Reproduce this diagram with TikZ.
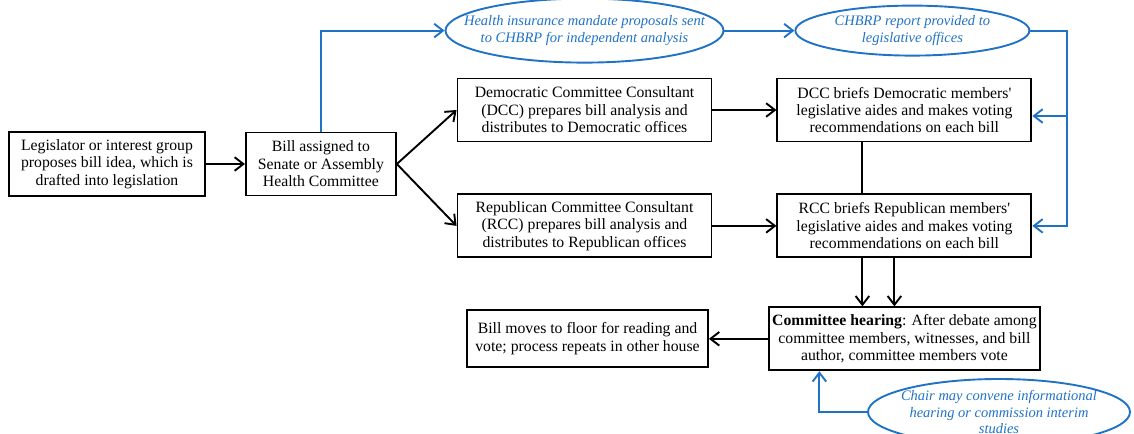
\documentclass[tikz,border=0pt]{standalone}
\usepackage{fontspec}
\setmainfont{Liberation Serif}
\usetikzlibrary{positioning, arrows.meta, shapes.geometric}
\definecolor{chbrp}{RGB}{32,114,198}

\begin{document}
\begin{tikzpicture}[
    box/.style={
        draw,
        line width=1.35pt,
        minimum width=6.35cm,
        minimum height=1.575cm,
        inner xsep=2pt,
        align=center,
        font=\fontsize{11.2}{12.4}\selectfont
    },
    oval/.style={
        draw=chbrp,
        ellipse,
        line width=1.35pt
    },
    note/.style={
        text=chbrp,
        align=center,
        font=\fontsize{10.3}{11.8}\selectfont\itshape
    },
    arr/.style={
        -{Straight Barb[length=2.2mm,width=3.4mm]},
        line width=1.35pt
    },
    bluearr/.style={
        arr,
        draw=chbrp
    }
]
\useasboundingbox (0,0) rectangle (28.35,-10.825);

% Bill start
\node[box, minimum width=4.9cm, minimum height=1.6cm] (idea) at (2.675,-4.1)
{Legislator or interest group\\proposes bill idea, which is\\drafted into legislation};
\node[box, minimum width=3.75cm, right=0.975cm of idea] (assign)
{Bill assigned to\\Senate or Assembly\\Health Committee};

% Consultants
\node[box] (dcc) at (14.6125,-2.75)
{Democratic Committee Consultant\\(DCC) prepares bill analysis and\\distributes to Democratic offices};
\node[box, below=1.275cm of dcc] (rcc)
{Republican Committee Consultant\\(RCC) prepares bill analysis and\\distributes to Republican offices};

% Briefings
\node[box, right=1.6cm of dcc] (dccbrief)
{DCC briefs Democratic members\textquotesingle\\legislative aides and makes voting\\recommendations on each bill};
\node[box, below=1.275cm of dccbrief] (rccbrief)
{RCC briefs Republican members\textquotesingle\\legislative aides and makes voting\\recommendations on each bill};

% Hearing and floor
\node[box, minimum width=6.775cm, below=1.2cm of rccbrief] (hearing)
{\textbf{Committee hearing}: After debate among\\committee members, witnesses, and bill\\author, committee members vote};
\node[box, minimum width=6.025cm, minimum height=1.425cm, left=1.475cm of hearing] (floor)
{Bill moves to floor for reading and\\vote; process repeats in other house};

% CHBRP ovals
\node[oval, minimum width=6.95cm, minimum height=1.6cm, above=0.35cm of dcc,
    label={[note]center:Health insurance mandate proposals sent\\to CHBRP for independent analysis}] (mandate) {};
\node[oval, minimum width=5.85cm, minimum height=1.25cm, right=1.75cm of mandate,
    label={[note]center:CHBRP report provided to\\legislative offices}] (report) {};
\node[oval, minimum width=6.55cm, minimum height=1.65cm,
    label={[note]center:Chair may convene informational\\hearing or commission interim\\studies}] (interim) at (24.975,-10.3) {};
\coordinate[right=0.925cm of report.east] (corner);

% Connections
\draw[arr] (idea) -- (assign);
\draw[arr] (assign.east) -- (dcc.west);
\draw[arr] (assign.east) -- (rcc.west);
\draw[arr] (dcc) -- (dccbrief);
\draw[arr] (rcc) -- (rccbrief);
\draw[line width=1.35pt] ([xshift=-1.05cm]dccbrief.south) -- ([xshift=-1.05cm]rccbrief.north);
\draw[arr] ([xshift=-1.05cm]rccbrief.south) -- ([xshift=-1.05cm]rccbrief.south |- hearing.north);
\draw[arr] ([xshift=-0.25cm]rccbrief.south) -- ([xshift=-0.25cm]rccbrief.south |- hearing.north);
\draw[arr] (hearing) -- (floor);

% CHBRP review loop
\draw[bluearr] (assign.north) |- (mandate.west);
\draw[bluearr] (mandate) -- (report);
\draw[bluearr] (report.east) -- (corner) |- (rccbrief.east);
\draw[bluearr] ([yshift=-0.15cm]corner |- dccbrief.east) -- ([yshift=-0.15cm]dccbrief.east);
\draw[bluearr] (interim.west) -| ([xshift=-2.125cm]hearing.south);

\end{tikzpicture}
\end{document}
